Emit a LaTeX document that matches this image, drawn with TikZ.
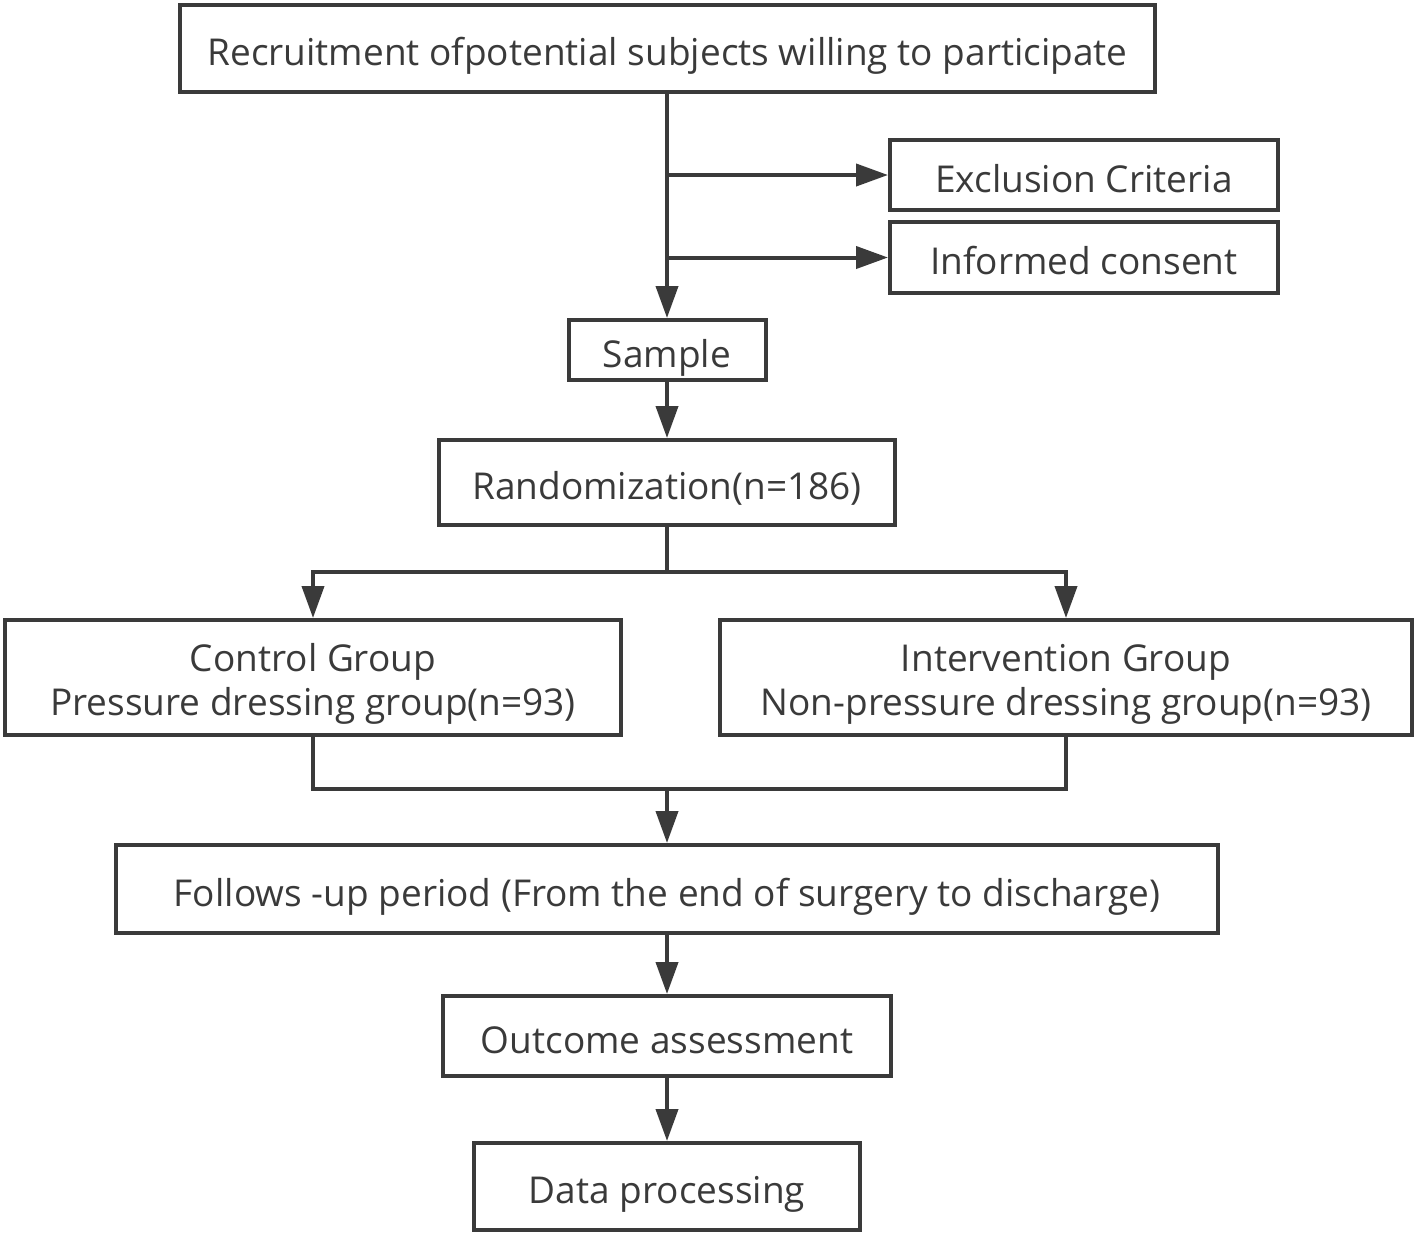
\documentclass[tikz,border=0pt]{standalone}
\usepackage{fontspec}
\setmainfont{Open Sans}
\usetikzlibrary{arrows.meta}
\definecolor{ink}{HTML}{3A3A3A}
\newcommand{\topstrut}{\rule{0pt}{20pt}}
\begin{document}
\begin{tikzpicture}[x=0.5pt,y=-0.5pt,
  box/.style={draw=ink,line width=2pt,text=ink,inner sep=0pt,align=center,
    font=\fontsize{18.5}{22}\selectfont},
  onel/.style={box,text height=21.2pt,text depth=4pt},
  conn/.style={draw=ink,line width=2pt},
  arr/.style={conn,-{Triangle[length=16pt,width=11pt]}}]
\useasboundingbox (0,0) rectangle (1418,1238);
\node[onel,minimum width=487.5pt,minimum height=43.5pt] (rec) at (667.5,48.5) {Recruitment ofpotential subjects willing to participate};
\node[onel,minimum width=194pt,minimum height=35pt] (excl) at (1084,175) {Exclusion Criteria};
\node[onel,minimum width=194pt,minimum height=35.5pt] (inf) at (1084,257.5) {Informed consent};
\node[onel,minimum width=98.5pt,minimum height=30pt] (sample) at (667,350) {Sample};
\node[onel,minimum width=228pt,minimum height=42.5pt] (rand) at (667,482.5) {Randomization(n=186)};
\node[box,minimum width=308pt,minimum height=57.5pt] (ctrl) at (313,677.5) {\topstrut Control Group\\Pressure dressing group(n=93)};
\node[box,minimum width=346pt,minimum height=57.5pt] (intv) at (1066,677.5) {\topstrut Intervention Group\\Non-pressure dressing group(n=93)};
\node[onel,minimum width=551pt,minimum height=44pt] (fol) at (667,889) {Follows -up period (From the end of surgery to discharge)};
\node[onel,minimum width=224pt,minimum height=40pt] (out) at (667,1036) {Outcome assessment};
\node[onel,minimum width=193pt,minimum height=43.5pt] (data) at (667,1186.5) {Data processing};
\coordinate (j1) at (667,572);
\coordinate (j2) at (667,789);
\draw[arr] (rec.south -| sample.north) -- (sample.north);
\draw[arr] (sample.north |- excl.west) -- (excl.west);
\draw[arr] (sample.north |- inf.west) -- (inf.west);
\draw[arr] (sample.south) -- (rand.north);
\draw[conn] (rand.south) -- (j1);
\draw[arr] (j1) -| (ctrl.north);
\draw[arr] (j1) -| (intv.north);
\draw[conn,line join=miter] (ctrl.south) |- (j2) -| (intv.south);
\draw[arr] (j2) -- (fol.north);
\draw[arr] (fol.south) -- (out.north);
\draw[arr] (out.south) -- (data.north);
\end{tikzpicture}
\end{document}
